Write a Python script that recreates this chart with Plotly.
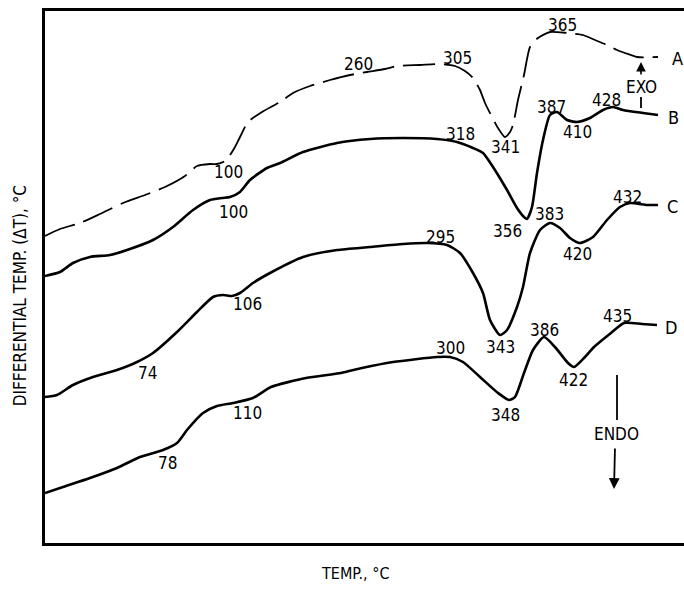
import plotly.graph_objects as go

# Arbitrary chart units (no numeric scale shown on the original)
a_x = [0, 15, 35, 55, 78, 100, 120, 140, 152, 165, 172, 180, 185, 190, 195, 203, 217, 235, 248, 265, 285, 305, 322, 340, 352, 375, 395, 410, 420, 428, 435, 440, 447, 453, 460, 465, 468, 473, 479, 485, 493, 505, 522, 538, 550, 562, 572, 580, 592, 613]
a_y = [307, 314, 320, 329, 340, 348, 356, 367, 377, 379, 379, 382, 388, 396, 406, 421, 431, 441, 450, 457, 463, 468, 471, 474, 477, 478, 479, 477, 472, 465, 453, 440, 426, 415, 406, 411, 418, 443, 468, 496, 505, 511, 510, 508, 503, 498, 493, 490, 486, 486]

b_x = [0, 15, 28, 45, 65, 82, 108, 128, 148, 165, 177, 185, 195, 205, 222, 235, 258, 292, 325, 358, 392, 412, 428, 438, 448, 462, 472, 479, 482, 487, 492, 498, 505, 512, 522, 532, 545, 558, 568, 578, 598, 613]
b_y = [267, 271, 280, 286, 288, 293, 303, 316, 333, 343, 345, 346, 351, 363, 375, 380, 391, 400, 404, 405, 404, 401, 395, 390, 376, 353, 335, 326, 324, 336, 370, 403, 428, 431, 423, 421, 425, 433, 436, 433, 430, 428]

c_x = [0, 12, 28, 48, 72, 92, 108, 132, 152, 168, 178, 187, 195, 208, 225, 258, 292, 325, 358, 382, 402, 415, 428, 438, 445, 455, 462, 472, 478, 485, 495, 505, 515, 525, 535, 548, 562, 575, 585, 602, 613]
c_y = [146, 148, 158, 166, 173, 181, 190, 211, 231, 246, 248, 247, 250, 260, 270, 286, 293, 296, 299, 300, 298, 290, 270, 250, 223, 208, 213, 236, 256, 290, 313, 320, 315, 305, 300, 306, 323, 336, 340, 338, 338]

d_x = [0, 18, 45, 72, 95, 118, 132, 142, 158, 172, 188, 208, 226, 261, 296, 317, 348, 392, 405, 418, 435, 453, 464, 470, 479, 488, 499, 510, 523, 529, 540, 549, 566, 579, 597, 612]
d_y = [50, 56, 65, 75, 86, 93, 100, 113, 130, 137, 140, 145, 156, 165, 170, 175, 181, 186, 186, 181, 166, 150, 143, 146, 170, 193, 206, 196, 180, 176, 186, 196, 210, 220, 219, 218]

# Peak temperature labels (text, x, y)
peak_text = ["365", "305", "260", "100", "341", "318", "387", "428", "410", "100", "356",
             "383", "420", "432", "295", "106", "74", "343", "386", "435", "422", "300",
             "348", "110", "78"]
peak_x = [517, 412, 313, 183, 460, 415, 506, 561, 532, 188, 462,
          504, 532, 582, 395, 202, 102, 455, 499, 572, 528, 405,
          460, 202, 122]
peak_y = [518, 485, 479, 371, 396, 409, 436, 443, 411, 331, 312,
          329, 289, 346, 306, 239, 170, 196, 213, 227, 163, 195,
          128, 130, 80]

curve_names = ["A", "B", "C", "D"]
name_x = [625, 621, 620, 618]
name_y = [485, 426, 337, 216]

FONT = "Liberation Sans Narrow, DejaVu Sans Condensed, Roboto Condensed, Arial Narrow, sans-serif"

fig = go.Figure()
fig.add_trace(go.Scatter(x=a_x, y=a_y, mode="lines",
                         line=dict(color="black", width=1.8, dash="32px,9px", shape="spline", smoothing=0.6)))
for xs, ys in [(b_x, b_y), (c_x, c_y), (d_x, d_y)]:
    fig.add_trace(go.Scatter(x=xs, y=ys, mode="lines",
                             line=dict(color="black", width=2.6, shape="spline", smoothing=0.6)))

annotations = []
for t, x, y in zip(peak_text, peak_x, peak_y):
    annotations.append(dict(x=x, y=y, text=t, showarrow=False, xref="x", yref="y",
                            font=dict(family=FONT, size=17, color="black")))
for t, x, y in zip(curve_names, name_x, name_y):
    annotations.append(dict(x=x, y=y, text=t, showarrow=False, xref="x", yref="y",
                            xanchor="left", font=dict(family=FONT, size=18, color="black")))

# EXO / ENDO markers
annotations.append(dict(x=596, y=456, text="EXO", showarrow=False, xref="x", yref="y",
                        font=dict(family=FONT, size=17, color="black")))
annotations.append(dict(x=596, y=481, ax=596, ay=467, xref="x", yref="y", axref="x", ayref="y",
                        text="", showarrow=True, arrowhead=2, arrowsize=1.2, arrowwidth=1.6,
                        arrowcolor="black"))
annotations.append(dict(x=571, y=109, text="ENDO", showarrow=False, xref="x", yref="y",
                        font=dict(family=FONT, size=17, color="black")))
annotations.append(dict(x=569, y=54, ax=570, ay=96, xref="x", yref="y", axref="x", ayref="y",
                        text="", showarrow=True, arrowhead=2, arrowsize=1.2, arrowwidth=1.8,
                        arrowcolor="black"))

# Axis titles
annotations.append(dict(x=0.485, y=-0.058, xref="paper", yref="paper", text="TEMP., °C",
                        xanchor="center", yanchor="middle",
                        showarrow=False, font=dict(family=FONT, size=16, color="black")))
annotations.append(dict(x=-0.039, y=0.464, xref="paper", yref="paper",
                        text="DIFFERENTIAL TEMP. (ΔT), °C", textangle=-90,
                        xanchor="center", yanchor="middle",
                        showarrow=False, font=dict(family=FONT, size=17, color="black")))

shapes = [
    dict(type="line", xref="x", yref="y", x0=596, y0=446, x1=596, y1=435,
         line=dict(color="black", width=1.8)),
    dict(type="line", xref="x", yref="y", x0=572, y0=168, x1=572, y1=123,
         line=dict(color="black", width=1.8)),
]

fig.update_layout(
    width=684, height=593,
    margin=dict(l=45, r=0, t=11, b=50),
    paper_bgcolor="white", plot_bgcolor="white",
    showlegend=False,
    annotations=annotations,
    shapes=shapes,
    xaxis=dict(range=[0, 639], showgrid=False, zeroline=False, showticklabels=False,
               ticks="", showline=True, linecolor="black", linewidth=3, mirror=True),
    yaxis=dict(range=[0, 532], showgrid=False, zeroline=False, showticklabels=False,
               ticks="", showline=True, linecolor="black", linewidth=3, mirror=False),
)

fig.write_html("out.html")
